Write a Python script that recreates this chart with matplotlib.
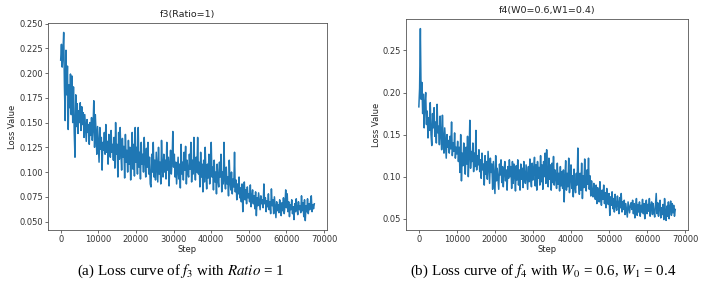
import numpy as np
import matplotlib
matplotlib.use("Agg")
import matplotlib.pyplot as plt

plt.rcParams['mathtext.fontset'] = 'stix'

STEP_INTERVAL = 200

loss_f3 = [
    0.213, 0.229, 0.206, 0.221, 0.241, 0.186, 0.152, 0.223, 0.178, 0.207,
    0.143, 0.188, 0.165, 0.199, 0.158, 0.197, 0.150, 0.186, 0.140, 0.115,
    0.178, 0.146, 0.169, 0.139, 0.162, 0.150, 0.170, 0.142, 0.166, 0.148,
    0.160, 0.135, 0.158, 0.145, 0.131, 0.153, 0.140, 0.148, 0.128, 0.150,
    0.137, 0.155, 0.132, 0.145, 0.172, 0.125, 0.158, 0.140, 0.118, 0.146,
    0.128, 0.110, 0.145, 0.123, 0.135, 0.102, 0.130, 0.122, 0.140, 0.118,
    0.148, 0.120, 0.131, 0.108, 0.138, 0.125, 0.115, 0.142, 0.120, 0.128,
    0.112, 0.135, 0.104, 0.150, 0.118, 0.128, 0.095, 0.140, 0.113, 0.145,
    0.120, 0.102, 0.134, 0.115, 0.126, 0.094, 0.138, 0.110, 0.122, 0.100,
    0.132, 0.108, 0.125, 0.092, 0.118, 0.140, 0.103, 0.128, 0.096, 0.145,
    0.110, 0.125, 0.098, 0.145, 0.105, 0.120, 0.093, 0.130, 0.108, 0.118,
    0.100, 0.135, 0.112, 0.095, 0.124, 0.105, 0.130, 0.098, 0.115, 0.088,
    0.085, 0.118, 0.100, 0.130, 0.095, 0.112, 0.092, 0.120, 0.104, 0.090,
    0.125, 0.098, 0.110, 0.088, 0.132, 0.105, 0.095, 0.118, 0.100, 0.112,
    0.093, 0.130, 0.102, 0.115, 0.086, 0.108, 0.122, 0.098, 0.110, 0.141,
    0.105, 0.118, 0.095, 0.110, 0.088, 0.102, 0.115, 0.093, 0.108, 0.084,
    0.128, 0.098, 0.110, 0.092, 0.120, 0.102, 0.126, 0.088, 0.112, 0.100,
    0.095, 0.118, 0.103, 0.130, 0.090, 0.112, 0.098, 0.135, 0.105, 0.092,
    0.115, 0.100, 0.135, 0.098, 0.110, 0.085, 0.120, 0.095, 0.108, 0.080,
    0.112, 0.090, 0.125, 0.098, 0.083, 0.108, 0.094, 0.118, 0.088, 0.102,
    0.130, 0.095, 0.105, 0.082, 0.112, 0.090, 0.100, 0.078, 0.108, 0.093,
    0.085, 0.110, 0.095, 0.118, 0.080, 0.100, 0.088, 0.130, 0.092, 0.083,
    0.105, 0.088, 0.095, 0.076, 0.112, 0.090, 0.082, 0.100, 0.078, 0.093,
    0.085, 0.120, 0.080, 0.092, 0.072, 0.088, 0.078, 0.095, 0.074, 0.084,
    0.070, 0.088, 0.060, 0.079, 0.090, 0.072, 0.082, 0.068, 0.085, 0.074,
    0.078, 0.070, 0.087, 0.065, 0.075, 0.082, 0.068, 0.076, 0.063, 0.080,
    0.056, 0.074, 0.066, 0.079, 0.070, 0.062, 0.076, 0.068, 0.072, 0.064,
    0.088, 0.068, 0.074, 0.060, 0.071, 0.065, 0.078, 0.062, 0.070, 0.058,
    0.083, 0.066, 0.072, 0.058, 0.075, 0.064, 0.054, 0.070, 0.061, 0.067,
    0.059, 0.072, 0.063, 0.056, 0.069, 0.061, 0.074, 0.058, 0.066, 0.082,
    0.064, 0.078, 0.060, 0.070, 0.055, 0.067, 0.062, 0.072, 0.058, 0.065,
    0.052, 0.068, 0.060, 0.073, 0.063, 0.057, 0.070, 0.062, 0.066, 0.059,
    0.076, 0.061, 0.069, 0.055, 0.072, 0.051, 0.066, 0.060, 0.073, 0.058,
    0.068, 0.062, 0.070, 0.076, 0.060, 0.067, 0.063, 0.068,
]

loss_f4 = [
    0.183, 0.205, 0.276, 0.192, 0.212, 0.175, 0.198, 0.158, 0.188, 0.200,
    0.162, 0.178, 0.146, 0.170, 0.155, 0.188, 0.150, 0.137, 0.175, 0.158,
    0.182, 0.148, 0.165, 0.140, 0.186, 0.152, 0.160, 0.138, 0.172, 0.150,
    0.132, 0.173, 0.145, 0.128, 0.158, 0.140, 0.122, 0.150, 0.135, 0.143,
    0.128, 0.148, 0.133, 0.165, 0.125, 0.140, 0.130, 0.152, 0.122, 0.135,
    0.127, 0.142, 0.118, 0.135, 0.105, 0.150, 0.095, 0.128, 0.113, 0.140,
    0.120, 0.103, 0.135, 0.115, 0.148, 0.100, 0.125, 0.167, 0.110, 0.130,
    0.118, 0.140, 0.106, 0.128, 0.112, 0.155, 0.108, 0.125, 0.114, 0.132,
    0.106, 0.120, 0.098, 0.128, 0.108, 0.115, 0.090, 0.125, 0.103, 0.118,
    0.097, 0.130, 0.110, 0.092, 0.122, 0.105, 0.115, 0.085, 0.118, 0.100,
    0.080, 0.125, 0.095, 0.110, 0.098, 0.085, 0.115, 0.102, 0.120, 0.093,
    0.112, 0.088, 0.105, 0.118, 0.095, 0.108, 0.084, 0.112, 0.098, 0.120,
    0.100, 0.112, 0.086, 0.118, 0.092, 0.115, 0.102, 0.083, 0.113, 0.096,
    0.120, 0.090, 0.108, 0.084, 0.115, 0.097, 0.110, 0.087, 0.118, 0.100,
    0.092, 0.114, 0.100, 0.085, 0.112, 0.094, 0.121, 0.098, 0.088, 0.116,
    0.096, 0.108, 0.123, 0.089, 0.114, 0.084, 0.118, 0.098, 0.111, 0.090,
    0.125, 0.094, 0.114, 0.085, 0.118, 0.100, 0.128, 0.092, 0.132, 0.101,
    0.088, 0.122, 0.097, 0.114, 0.084, 0.116, 0.093, 0.124, 0.090, 0.108,
    0.100, 0.086, 0.116, 0.091, 0.104, 0.083, 0.112, 0.089, 0.106, 0.086,
    0.108, 0.070, 0.100, 0.119, 0.084, 0.104, 0.088, 0.122, 0.081, 0.099,
    0.114, 0.086, 0.101, 0.076, 0.109, 0.088, 0.081, 0.104, 0.090, 0.134,
    0.092, 0.079, 0.104, 0.084, 0.116, 0.074, 0.101, 0.087, 0.121, 0.090,
    0.083, 0.108, 0.091, 0.122, 0.085, 0.101, 0.077, 0.095, 0.081, 0.076,
    0.092, 0.080, 0.073, 0.090, 0.068, 0.087, 0.077, 0.070, 0.094, 0.074,
    0.066, 0.084, 0.073, 0.090, 0.068, 0.081, 0.063, 0.086, 0.070, 0.067,
    0.080, 0.054, 0.076, 0.066, 0.082, 0.062, 0.074, 0.058, 0.079, 0.065,
    0.060, 0.077, 0.068, 0.056, 0.075, 0.063, 0.080, 0.058, 0.070, 0.061,
    0.072, 0.055, 0.068, 0.060, 0.052, 0.070, 0.063, 0.057, 0.066, 0.069,
    0.061, 0.072, 0.056, 0.068, 0.051, 0.064, 0.074, 0.054, 0.067, 0.058,
    0.070, 0.053, 0.066, 0.058, 0.073, 0.056, 0.068, 0.050, 0.064, 0.072,
    0.056, 0.067, 0.059, 0.074, 0.053, 0.065, 0.070, 0.055, 0.068, 0.058,
    0.052, 0.066, 0.080, 0.056, 0.069, 0.053, 0.064, 0.072, 0.051, 0.063,
    0.055, 0.067, 0.049, 0.074, 0.058, 0.048, 0.065, 0.053, 0.070, 0.050,
    0.064, 0.071, 0.054, 0.068, 0.057, 0.066, 0.053, 0.061,
]

titles = ["f3(Ratio=1)", "f4(W0=0.6,W1=0.4)"]
captions = [r"(a) Loss curve of $f_3$ with $Ratio$ = 1",
            r"(b) Loss curve of $f_4$ with $W_0$ = 0.6, $W_1$ = 0.4"]
x_ticks = [0, 10000, 20000, 30000, 40000, 50000, 60000, 70000]

fig = plt.figure(figsize=(7.07, 2.91), dpi=100)
axes_rects = [[0.0679, 0.2096, 0.3946, 0.7113],
              [0.5743, 0.2096, 0.3989, 0.7251]]
series = [loss_f3, loss_f4]
cap_x = [0.256, 0.769]

for rect, ys, title, cap, cx in zip(axes_rects, series, titles, captions, cap_x):
    ax = fig.add_axes(rect)
    steps = np.arange(len(ys)) * STEP_INTERVAL
    ax.plot(steps, ys, color='#1f77b4', lw=1.1)
    ax.set_xticks(x_ticks)
    ax.set_title(title, fontsize=6.8, pad=4, color='#222222')
    ax.set_xlabel("Step", fontsize=6, labelpad=1, color='#222222')
    ax.set_ylabel("Loss Value", fontsize=6, labelpad=1.5, color='#222222')
    ax.tick_params(labelsize=6, length=2, width=0.5, pad=1.5, colors='#333333')
    for sp in ax.spines.values():
        sp.set_linewidth(0.6)
        sp.set_color('#555555')
    fig.text(cx, 1 - 271 / 291, cap, ha='center', va='center',
             fontsize=10.8, family='Liberation Serif')

fig.savefig("out.png", dpi=100)
